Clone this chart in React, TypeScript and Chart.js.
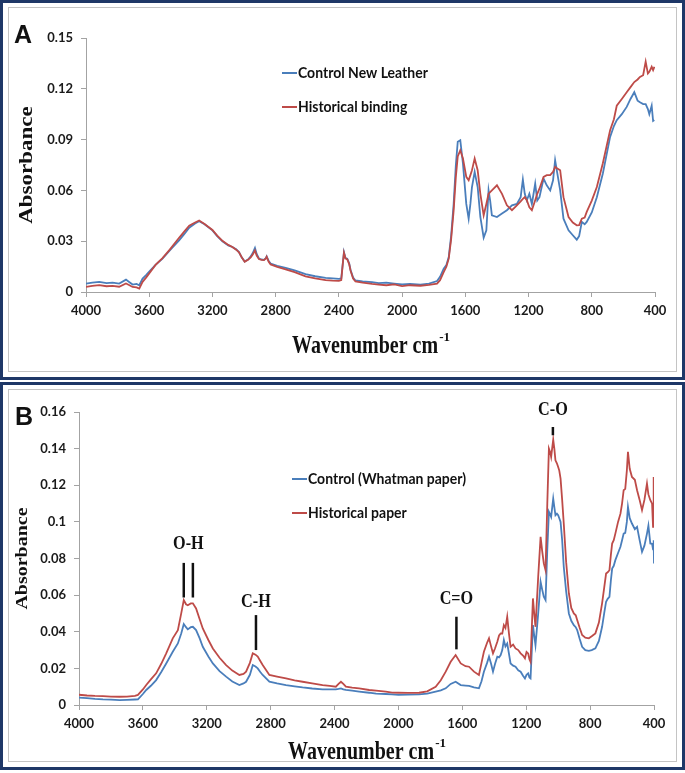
import React, { useEffect, useRef } from "react";
import { Chart, registerables } from "chart.js";
Chart.register(...registerables);

// ---------------- Panel A data ----------------
const wavenumberA = [4000, 3960, 3916, 3870, 3832, 3790, 3747, 3725, 3705, 3680, 3663, 3642, 3620, 3600, 3560, 3516, 3470, 3411, 3380, 3347, 3310, 3284, 3250, 3200, 3170, 3137, 3100, 3074, 3050, 3032, 3015, 2996, 2975, 2958, 2945, 2931, 2920, 2906, 2890, 2874, 2862, 2857, 2845, 2832, 2790, 2737, 2680, 2611, 2550, 2484, 2440, 2400, 2385, 2375, 2368, 2358, 2347, 2335, 2326, 2310, 2295, 2250, 2190, 2148, 2100, 2050, 2000, 1950, 1884, 1830, 1779, 1760, 1737, 1720, 1705, 1690, 1674, 1660, 1648, 1632, 1615, 1594, 1579, 1568, 1558, 1541, 1522, 1505, 1484, 1467, 1453, 1443, 1432, 1400, 1368, 1337, 1305, 1274, 1250, 1236, 1224, 1211, 1195, 1179, 1158, 1145, 1131, 1105, 1085, 1063, 1045, 1032, 1018, 1000, 979, 947, 920, 895, 880, 863, 845, 832, 800, 768, 730, 684, 660, 642, 610, 579, 555, 531, 510, 495, 475, 459, 445, 436, 421, 412, 404];
const controlNewLeather = [0.0049, 0.0055, 0.006, 0.0052, 0.0055, 0.005, 0.0073, 0.0058, 0.0044, 0.0048, 0.004, 0.0079, 0.01, 0.012, 0.016, 0.0197, 0.0245, 0.0305, 0.034, 0.038, 0.0405, 0.0418, 0.04, 0.0364, 0.033, 0.03, 0.0275, 0.0266, 0.0252, 0.0236, 0.0205, 0.018, 0.0192, 0.021, 0.023, 0.026, 0.0225, 0.0198, 0.0192, 0.019, 0.02, 0.021, 0.0185, 0.0168, 0.0155, 0.0143, 0.0128, 0.0105, 0.0093, 0.0083, 0.008, 0.0078, 0.008, 0.017, 0.0236, 0.02, 0.0197, 0.017, 0.013, 0.0085, 0.0068, 0.0062, 0.0058, 0.0052, 0.0055, 0.005, 0.0045, 0.0048, 0.0043, 0.005, 0.0065, 0.009, 0.0138, 0.016, 0.0207, 0.033, 0.052, 0.075, 0.0887, 0.0896, 0.0758, 0.052, 0.0433, 0.052, 0.062, 0.0709, 0.062, 0.0443, 0.0321, 0.0364, 0.06, 0.054, 0.0453, 0.0443, 0.0463, 0.0483, 0.0512, 0.052, 0.056, 0.0664, 0.058, 0.0542, 0.058, 0.052, 0.064, 0.054, 0.056, 0.067, 0.063, 0.06, 0.066, 0.0778, 0.07, 0.06, 0.0433, 0.0364, 0.0335, 0.0309, 0.033, 0.0414, 0.04, 0.0414, 0.047, 0.056, 0.07, 0.0916, 0.098, 0.1015, 0.105, 0.1093, 0.114, 0.118, 0.113, 0.112, 0.111, 0.111, 0.108, 0.105, 0.11, 0.101, 0.1015];
const historicalBinding = [0.003, 0.0036, 0.0041, 0.0034, 0.0036, 0.0031, 0.005, 0.004, 0.003, 0.0027, 0.002, 0.006, 0.0085, 0.011, 0.016, 0.02, 0.025, 0.032, 0.0355, 0.0392, 0.041, 0.0422, 0.0402, 0.0366, 0.0333, 0.0302, 0.0278, 0.0266, 0.025, 0.0234, 0.0205, 0.0178, 0.019, 0.0205, 0.0222, 0.0245, 0.0215, 0.0195, 0.019, 0.0188, 0.0198, 0.0208, 0.018, 0.0163, 0.0148, 0.0133, 0.0117, 0.0092, 0.008, 0.007, 0.0067, 0.0066, 0.007, 0.017, 0.0232, 0.0198, 0.0192, 0.0165, 0.0126, 0.008, 0.0062, 0.0055, 0.0048, 0.0044, 0.004, 0.0045, 0.0035, 0.004, 0.0037, 0.0042, 0.0049, 0.007, 0.0118, 0.015, 0.0197, 0.031, 0.048, 0.068, 0.08, 0.0837, 0.0788, 0.068, 0.066, 0.069, 0.0719, 0.0788, 0.0719, 0.058, 0.0453, 0.052, 0.058, 0.059, 0.06, 0.063, 0.058, 0.0512, 0.0483, 0.0512, 0.0535, 0.055, 0.056, 0.0542, 0.05, 0.0483, 0.0542, 0.058, 0.061, 0.068, 0.069, 0.069, 0.071, 0.0739, 0.073, 0.0719, 0.056, 0.0443, 0.041, 0.0394, 0.0395, 0.0433, 0.044, 0.0473, 0.054, 0.062, 0.076, 0.0955, 0.102, 0.11, 0.114, 0.118, 0.121, 0.124, 0.1255, 0.127, 0.128, 0.136, 0.129, 0.13, 0.133, 0.131, 0.133];

// ---------------- Panel B data ----------------
const wavenumberB = [4000, 3950, 3900, 3850, 3800, 3746, 3700, 3650, 3631, 3600, 3579, 3550, 3517, 3485, 3454, 3413, 3381, 3360, 3344, 3330, 3319, 3300, 3287, 3267, 3245, 3225, 3190, 3162, 3120, 3079, 3040, 2996, 2970, 2954, 2930, 2912, 2895, 2881, 2865, 2850, 2808, 2760, 2704, 2650, 2600, 2540, 2475, 2430, 2392, 2375, 2360, 2345, 2329, 2290, 2246, 2183, 2140, 2079, 2040, 2000, 1940, 1871, 1820, 1767, 1735, 1704, 1673, 1642, 1610, 1580, 1558, 1527, 1496, 1480, 1465, 1445, 1433, 1420, 1408, 1395, 1381, 1370, 1360, 1350, 1340, 1330, 1319, 1308, 1298, 1282, 1267, 1250, 1235, 1220, 1208, 1198, 1188, 1180, 1173, 1165, 1158, 1150, 1142, 1125, 1110, 1100, 1090, 1079, 1068, 1058, 1050, 1044, 1031, 1024, 1017, 1008, 1000, 993, 985, 975, 965, 950, 933, 918, 902, 890, 881, 865, 850, 830, 808, 790, 767, 745, 725, 712, 700, 690, 679, 670, 662, 652, 642, 625, 610, 600, 590, 580, 570, 563, 552, 538, 520, 506, 490, 475, 460, 444, 435, 423, 412, 406, 402, 400];
const controlWhatman = [0.004, 0.0038, 0.0034, 0.0031, 0.0029, 0.0027, 0.0028, 0.003, 0.0031, 0.006, 0.0082, 0.0105, 0.0136, 0.018, 0.0227, 0.0291, 0.0336, 0.039, 0.0442, 0.0425, 0.0413, 0.0425, 0.0427, 0.0409, 0.0365, 0.0318, 0.0265, 0.0227, 0.0185, 0.0155, 0.0128, 0.0109, 0.0118, 0.0127, 0.0165, 0.0218, 0.021, 0.02, 0.018, 0.0164, 0.0127, 0.0118, 0.0109, 0.0102, 0.0096, 0.009, 0.0085, 0.0085, 0.0085, 0.0088, 0.0091, 0.0085, 0.0082, 0.0078, 0.0073, 0.0067, 0.0062, 0.006, 0.0058, 0.0055, 0.0057, 0.0058, 0.0062, 0.0073, 0.008, 0.0091, 0.0115, 0.0127, 0.0109, 0.0106, 0.0104, 0.0096, 0.0091, 0.013, 0.0182, 0.023, 0.0264, 0.0225, 0.0182, 0.0225, 0.0264, 0.026, 0.0273, 0.03, 0.0355, 0.032, 0.0336, 0.028, 0.0227, 0.0215, 0.0209, 0.019, 0.0182, 0.016, 0.0145, 0.0165, 0.0173, 0.015, 0.0145, 0.03, 0.0436, 0.038, 0.0327, 0.05, 0.0673, 0.063, 0.0591, 0.0573, 0.085, 0.1055, 0.104, 0.1027, 0.1127, 0.108, 0.1036, 0.1045, 0.1036, 0.102, 0.1, 0.09, 0.0755, 0.062, 0.05, 0.046, 0.0436, 0.0425, 0.0409, 0.036, 0.0318, 0.03, 0.0296, 0.03, 0.0309, 0.035, 0.0427, 0.05, 0.0564, 0.058, 0.0591, 0.068, 0.0745, 0.076, 0.0791, 0.083, 0.0864, 0.09, 0.0936, 0.094, 0.1, 0.1082, 0.102, 0.0991, 0.096, 0.0973, 0.09, 0.0836, 0.087, 0.0936, 0.098, 0.0882, 0.088, 0.085, 0.09, 0.0773];
const historicalPaper = [0.0056, 0.0052, 0.005, 0.0049, 0.0046, 0.0045, 0.0046, 0.005, 0.0055, 0.0085, 0.0109, 0.014, 0.0173, 0.0225, 0.0282, 0.0364, 0.0409, 0.05, 0.0573, 0.055, 0.0545, 0.0555, 0.0555, 0.0527, 0.047, 0.0418, 0.0355, 0.0309, 0.0258, 0.0218, 0.0188, 0.0164, 0.017, 0.0182, 0.023, 0.0282, 0.0275, 0.0264, 0.024, 0.0218, 0.0164, 0.0155, 0.0145, 0.0135, 0.0127, 0.0118, 0.0109, 0.0104, 0.01, 0.0115, 0.0127, 0.0115, 0.01, 0.0095, 0.0091, 0.0082, 0.0078, 0.0073, 0.0068, 0.0067, 0.0066, 0.0067, 0.0075, 0.01, 0.0135, 0.0182, 0.0236, 0.0273, 0.0227, 0.0212, 0.0209, 0.0182, 0.0164, 0.023, 0.0291, 0.034, 0.0364, 0.032, 0.0282, 0.031, 0.0345, 0.038, 0.0391, 0.039, 0.0436, 0.042, 0.0482, 0.039, 0.0318, 0.033, 0.0309, 0.03, 0.0282, 0.027, 0.0255, 0.029, 0.0282, 0.025, 0.0236, 0.042, 0.0582, 0.05, 0.0427, 0.07, 0.0918, 0.084, 0.0773, 0.0736, 0.11, 0.14, 0.138, 0.1355, 0.1449, 0.14, 0.1336, 0.132, 0.13, 0.128, 0.1236, 0.112, 0.0991, 0.078, 0.0609, 0.053, 0.05, 0.049, 0.0464, 0.042, 0.0382, 0.0368, 0.0364, 0.0375, 0.0391, 0.045, 0.0555, 0.064, 0.0718, 0.0725, 0.0736, 0.082, 0.0882, 0.09, 0.0936, 0.1, 0.1045, 0.11, 0.1173, 0.118, 0.128, 0.1382, 0.129, 0.1245, 0.123, 0.1173, 0.112, 0.1064, 0.112, 0.1209, 0.115, 0.1118, 0.11, 0.0973, 0.1245, 0.1];

// ---------------- ticks, labels ----------------
const xTickValues = [4000, 3600, 3200, 2800, 2400, 2000, 1600, 1200, 800, 400];
const yTicksA = [0, 0.03, 0.06, 0.09, 0.12, 0.15];
const yTicksB = [0, 0.02, 0.04, 0.06, 0.08, 0.1, 0.12, 0.14, 0.16];
const seriesNamesA = ["Control New Leather", "Historical binding"];
const seriesNamesB = ["Control (Whatman paper)", "Historical paper"];

// annotations for panel B (band label, label position, marker line positions)
const bandLabels = ["O-H", "C-H", "C=O", "C-O"];
const bandLabelX = [3315, 2892, 1637, 1033];
const bandLabelY = [0.0878, 0.056, 0.0578, 0.161];
const bandLineX = [[3344, 3287], [2892], [1637], [1033]];
const bandLineFrom = [0.0587, 0.03, 0.0304, 0.1473];
const bandLineTo = [0.0776, 0.0491, 0.0482, 0.1518];

const BLUE = "#4a7ebb";
const RED = "#be4b48";
const NAVY = "#1e3767";
const AXIS = "#a3a3a3";
const SERIF = "'Liberation Serif', 'Times New Roman', serif";
const SANS = "Lato, 'Liberation Sans', sans-serif";

function drawText(ctx: CanvasRenderingContext2D, text: string, x: number, y: number, font: string, sx = 1, sy = 1, rot = 0, align: CanvasTextAlign = "center") {
  ctx.save();
  ctx.translate(x, y);
  if (rot) ctx.rotate(rot);
  ctx.scale(sx, sy);
  ctx.font = font;
  ctx.textAlign = align;
  ctx.textBaseline = "middle";
  ctx.fillText(text, 0, 0);
  ctx.restore();
}

type PanelCfg = {
  w: number;
  h: number;
  x: number[];
  s1: number[];
  s2: number[];
  names: string[];
  yTicks: number[];
  yMax: number;
  padTop: number;
  padRight: number;
  yWidth: number;
  xHeight: number;
  letter: string;
  letterX: number;
  letterY: number;
  legendX: number;
  legendY: number[];
  xTitleY: number;
  yTitleX: number;
  yTitleSize: number;
  annotate: boolean;
};

function makeOverlay(cfg: PanelCfg) {
  return {
    id: "overlay",
    afterDraw(chart: any) {
      const ctx: CanvasRenderingContext2D = chart.ctx;
      const xs = chart.scales.x;
      const ys = chart.scales.y;
      const ca = chart.chartArea;
      ctx.save();
      ctx.fillStyle = "#111";
      // panel letter
      drawText(ctx, cfg.letter, cfg.letterX, cfg.letterY, `bold 25px 'Liberation Sans', Arial, sans-serif`, 1, 1, 0, "left");
      // legend
      const colors = [BLUE, RED];
      cfg.names.forEach((name, i) => {
        const y = cfg.legendY[i];
        ctx.strokeStyle = colors[i];
        ctx.lineWidth = 2;
        ctx.beginPath();
        ctx.moveTo(cfg.legendX, y);
        ctx.lineTo(cfg.legendX + 15, y);
        ctx.stroke();
        ctx.fillStyle = "#111";
        drawText(ctx, name, cfg.legendX + 16, y, `bold 14px ${SANS}`, 1, 1.05, 0, "left");
      });
      // x title with superscript
      const cx = (ca.left + ca.right) / 2;
      const sx = 0.8;
      ctx.font = `bold 25px ${SERIF}`;
      const mainW = ctx.measureText("Wavenumber cm").width * sx;
      ctx.font = `bold 13px ${SERIF}`;
      const supW = ctx.measureText("-1").width;
      const startX = cx - (mainW + supW) / 2;
      ctx.fillStyle = "#111";
      drawText(ctx, "Wavenumber cm", startX, cfg.xTitleY, `bold 25px ${SERIF}`, sx, 1, 0, "left");
      drawText(ctx, "-1", startX + mainW + 1, cfg.xTitleY - 9, `bold 13px ${SERIF}`, 1, 1, 0, "left");
      // y title
      drawText(ctx, "Absorbance", cfg.yTitleX, (ca.top + ca.bottom) / 2, `bold ${cfg.yTitleSize}px ${SERIF}`, 1, 0.85, -Math.PI / 2, "center");
      // band annotations
      if (cfg.annotate) {
        ctx.strokeStyle = "#111";
        ctx.lineWidth = 2.5;
        bandLabels.forEach((lab, i) => {
          drawText(ctx, lab, xs.getPixelForValue(bandLabelX[i]), ys.getPixelForValue(bandLabelY[i]), `bold 18px ${SERIF}`, 0.9, 1, 0, "center");
          bandLineX[i].forEach((bx) => {
            const px = xs.getPixelForValue(bx);
            ctx.beginPath();
            ctx.moveTo(px, ys.getPixelForValue(bandLineFrom[i]));
            ctx.lineTo(px, ys.getPixelForValue(bandLineTo[i]));
            ctx.stroke();
          });
        });
      }
      ctx.restore();
    },
  };
}

function Panel({ cfg, top }: { cfg: PanelCfg; top: number }) {
  const ref = useRef<HTMLCanvasElement>(null);
  useEffect(() => {
    const canvas = ref.current!;
    const fmt = (v: number) => String(Number(v.toFixed(2)));
    const chart = new Chart(canvas, {
      type: "line",
      data: {
        datasets: [
          {
            label: cfg.names[0],
            data: cfg.x.map((w, i) => ({ x: w, y: cfg.s1[i] })),
            borderColor: BLUE,
            borderWidth: 1.8,
            pointRadius: 0,
            tension: 0,
            fill: false,
            order: 1,
          },
          {
            label: cfg.names[1],
            data: cfg.x.map((w, i) => ({ x: w, y: cfg.s2[i] })),
            borderColor: RED,
            borderWidth: 1.8,
            pointRadius: 0,
            tension: 0,
            fill: false,
            order: 0,
          },
        ],
      },
      options: {
        responsive: false,
        maintainAspectRatio: false,
        animation: false,
        devicePixelRatio: 1,
        layout: { padding: { left: 0, right: cfg.padRight, top: cfg.padTop, bottom: 0 } },
        plugins: { legend: { display: false }, tooltip: { enabled: false }, title: { display: false } },
        scales: {
          x: {
            type: "linear",
            reverse: true,
            min: 400,
            max: 4000,
            afterBuildTicks: (s: any) => {
              s.ticks = xTickValues.map((v) => ({ value: v }));
            },
            afterFit: (s: any) => {
              s.height = cfg.xHeight;
            },
            ticks: {
              autoSkip: false,
              maxRotation: 0,
              padding: 6,
              color: "#1a1a1a",
              font: { family: SANS, size: 13, weight: "bold" },
              callback: (v: any) => String(v),
            },
            grid: { drawOnChartArea: false, drawTicks: true, tickLength: 5, color: AXIS },
            border: { display: true, color: AXIS, width: 1 },
          },
          y: {
            type: "linear",
            min: 0,
            max: cfg.yMax,
            afterBuildTicks: (s: any) => {
              s.ticks = cfg.yTicks.map((v) => ({ value: v }));
            },
            afterFit: (s: any) => {
              s.width = cfg.yWidth;
            },
            ticks: {
              autoSkip: false,
              padding: 8,
              color: "#1a1a1a",
              font: { family: SANS, size: 13, weight: "bold" },
              callback: (v: any) => fmt(Number(v)),
            },
            grid: { drawOnChartArea: false, drawTicks: true, tickLength: 5, color: AXIS },
            border: { display: true, color: AXIS, width: 1 },
          },
        },
      },
      plugins: [makeOverlay(cfg) as any],
    });
    return () => chart.destroy();
  }, [cfg]);
  return (
    <canvas
      ref={ref}
      width={cfg.w}
      height={cfg.h}
      style={{ position: "absolute", left: 0, top, width: cfg.w, height: cfg.h }}
    />
  );
}

const cfgA: PanelCfg = {
  w: 685,
  h: 380,
  x: wavenumberA,
  s1: controlNewLeather,
  s2: historicalBinding,
  names: seriesNamesA,
  yTicks: yTicksA,
  yMax: 0.15,
  padTop: 38,
  padRight: 30,
  yWidth: 86,
  xHeight: 88,
  letter: "A",
  letterX: 14,
  letterY: 36,
  legendX: 282,
  legendY: [73, 107],
  xTitleY: 347,
  yTitleX: 27,
  yTitleSize: 23,
  annotate: false,
};

const cfgB: PanelCfg = {
  w: 685,
  h: 388,
  x: wavenumberB,
  s1: controlWhatman,
  s2: historicalPaper,
  names: seriesNamesB,
  yTicks: yTicksB,
  yMax: 0.16,
  padTop: 30,
  padRight: 31,
  yWidth: 79,
  xHeight: 65,
  letter: "B",
  letterX: 15,
  letterY: 36,
  legendX: 292,
  legendY: [97, 131],
  xTitleY: 371,
  yTitleX: 23,
  yTitleSize: 20,
  annotate: true,
};

export default function App() {
  useEffect(() => {
    document.body.style.margin = "0";
  }, []);
  const box = (top: number, height: number) => (
    <>
      <div
        style={{
          position: "absolute",
          left: 0,
          top,
          width: 685,
          height,
          boxSizing: "border-box",
          border: `3px solid ${NAVY}`,
        }}
      />
      <div
        style={{
          position: "absolute",
          left: 8,
          top: top + 7,
          width: 685 - 16,
          height: height - 15,
          boxSizing: "border-box",
          border: "1px solid #c4c4c4",
        }}
      />
    </>
  );
  return (
    <div style={{ position: "relative", width: 685, height: 773, background: "#fff", fontFamily: SANS }}>
      {box(0, 380)}
      {box(382, 388)}
      <Panel cfg={cfgA} top={0} />
      <Panel cfg={cfgB} top={382} />
    </div>
  );
}
